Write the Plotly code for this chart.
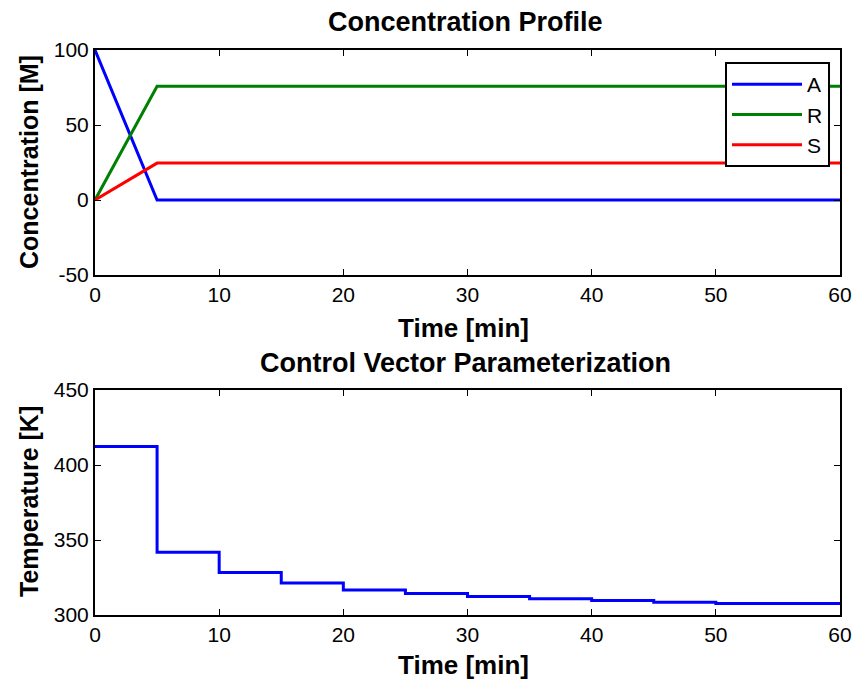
import plotly.graph_objects as go

# Concentration profile data
time_conc = [0, 5, 10, 20, 30, 40, 50, 60]
conc_A = [100, 0, 0, 0, 0, 0, 0, 0]
conc_R = [0, 75.8, 75.8, 75.8, 75.8, 75.8, 75.8, 75.8]
conc_S = [0, 24.6, 24.6, 24.6, 24.6, 24.6, 24.6, 24.6]

# Control vector parameterization (piecewise constant temperature)
time_ctrl = [0, 5, 10, 15, 20, 25, 30, 35, 40, 45, 50, 55, 60]
temp_ctrl = [412.3, 341.8, 328.3, 321.3, 316.6, 314.4, 312.3, 310.8, 309.7, 308.5, 307.6, 307.6, 307.6]

x_ticks = [0, 10, 20, 30, 40, 50, 60]
conc_ticks = [-50, 0, 50, 100]
conc_ticktext = ["-50", "0", "50", "100"]
temp_ticks = [300, 350, 400, 450]

FONT = "Liberation Sans, Arial, sans-serif"

fig = go.Figure()
fig.add_trace(go.Scatter(x=time_conc, y=conc_A, name="A", mode="lines",
                         line=dict(color="#0000ff", width=3), xaxis="x", yaxis="y"))
fig.add_trace(go.Scatter(x=time_conc, y=conc_R, name="R", mode="lines",
                         line=dict(color="#008000", width=3), xaxis="x", yaxis="y"))
fig.add_trace(go.Scatter(x=time_conc, y=conc_S, name="S", mode="lines",
                         line=dict(color="#ff0000", width=3), xaxis="x", yaxis="y"))
fig.add_trace(go.Scatter(x=time_ctrl, y=temp_ctrl, mode="lines", showlegend=False,
                         line=dict(color="#0000ff", width=3, shape="hv"), xaxis="x2", yaxis="y2"))

W, H = 853, 681
xd = [95 / W, 840 / W]
yd1 = [(H - 275) / H, (H - 50) / H]
yd2 = [(H - 615) / H, (H - 390) / H]

axis_common = dict(showline=True, linecolor="black", linewidth=2, mirror="ticks",
                   ticks="inside", ticklen=6, tickwidth=1, tickcolor="black",
                   showgrid=False, zeroline=False, automargin=False,
                   tickfont=dict(family=FONT, size=21, color="black"))

fig.update_layout(
    template="none",
    width=W, height=H, autosize=False,
    margin=dict(l=0, r=0, t=0, b=0, pad=0),
    paper_bgcolor="white", plot_bgcolor="white",
    xaxis=dict(domain=xd, range=[0, 60], tickvals=x_ticks, anchor="y", **axis_common),
    yaxis=dict(domain=yd1, range=[-50, 100], tickvals=conc_ticks, ticktext=conc_ticktext,
               anchor="x", **axis_common),
    xaxis2=dict(domain=xd, range=[0, 60], tickvals=x_ticks, anchor="y2", **axis_common),
    yaxis2=dict(domain=yd2, range=[300, 450], tickvals=temp_ticks, anchor="x2", **axis_common),
    legend=dict(x=830 / W, y=(H - 62) / H, xanchor="right", yanchor="top",
                bordercolor="black", borderwidth=2, bgcolor="white",
                font=dict(family=FONT, size=21, color="black"),
                tracegroupgap=0, itemwidth=70),
    showlegend=True,
)

def ann(text, x, y, angle=0, size=26):
    fig.add_annotation(text="<b>%s</b>" % text, x=x / W, y=(H - y) / H, xref="paper", yref="paper",
                       showarrow=False, textangle=angle, xanchor="center", yanchor="middle",
                       font=dict(family=FONT, size=size, color="black"))

ann("Concentration Profile", 465, 22, size=27)
ann("Time [min]", 463, 328)
ann("Concentration [M]", 29, 162, angle=-90, size=25)
ann("Control Vector Parameterization", 465, 363, size=27)
ann("Time [min]", 463, 665)
ann("Temperature [K]", 29, 502, angle=-90, size=25)

fig.write_html("out.html")
